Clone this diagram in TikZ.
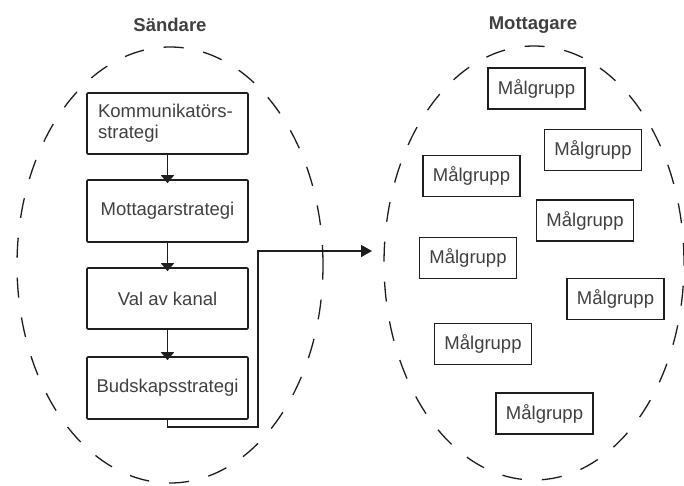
\documentclass[tikz,border=0pt]{standalone}
\usepackage{fontspec}
\setmainfont{Liberation Sans}
\usetikzlibrary{arrows.meta}
\definecolor{txt}{HTML}{404040}
\definecolor{ln}{HTML}{1E1E1E}
\tikzset{
  stratbox/.style={draw=ln, line width=1.6pt, rounded corners=1pt, minimum width=161pt, font=\fontsize{18.5}{21}\selectfont, text=txt, inner sep=0pt},
  grpbox/.style={draw=ln, line width=1.4pt, minimum width=97pt, minimum height=41pt, font=\fontsize{18.5}{21}\selectfont, text=txt, inner sep=0pt},
  title/.style={font=\fontsize{18.5}{21}\selectfont\bfseries, text=txt},
  border/.style={draw=ln, line width=1.3pt, dash pattern=on 20pt off 20pt},
  flow/.style={draw=ln, line width=1.5pt, -{Triangle[width=13pt,length=8pt]}},
  link/.style={draw=ln, line width=1.5pt, -{Triangle[width=12pt,length=11pt]}}
}
\begin{document}
\begin{tikzpicture}[x=1pt,y=-1pt]
\useasboundingbox (0,0) rectangle (684,485);
% ellipses
\draw[border] (170,265) ellipse [x radius=153pt, y radius=218pt];
\draw[border] (534,263) ellipse [x radius=150pt, y radius=217pt];
% titles
\node[title] (t1) at (170,25) {Sändare};
\node[title] (t2) at (533,25) {Mottagare};
% strategy boxes
\node[stratbox, minimum height=61pt, text width=139pt, align=left] (b1) at (167.5,123.5) {Kommunikatörs-\\strategi};
\node[stratbox, minimum height=62pt] (b2) at (167.5,211) {Mottagarstrategi};
\node[stratbox, minimum height=61pt] (b3) at (167.5,298.5) {Val av kanal};
\node[stratbox, minimum height=62pt] (b4) at (167.5,388) {Budskapsstrategi};
\draw[flow] (b1.south) -- ([yshift=-4pt]b2.north);
\draw[flow] (b2.south) -- ([yshift=-4pt]b3.north);
\draw[flow] (b3.south) -- ([yshift=-4pt]b4.north);
% connector
\coordinate (low) at (258,427);
\coordinate (turn) at (258,251);
\coordinate (tip) at (372,251);
\draw[link] (b4.south) |- (low) -- (turn) -- (tip);
% target groups
\node[grpbox] (g1) at (536.5,88.5) {Målgrupp};
\node[grpbox] (g2) at (593,150) {Målgrupp};
\node[grpbox] (g3) at (471.5,176) {Målgrupp};
\node[grpbox] (g4) at (585,220.5) {Målgrupp};
\node[grpbox] (g5) at (468,258) {Målgrupp};
\node[grpbox] (g6) at (615.5,299) {Målgrupp};
\node[grpbox] (g7) at (483,344) {Målgrupp};
\node[grpbox] (g8) at (544.5,413.5) {Målgrupp};
\end{tikzpicture}
\end{document}
